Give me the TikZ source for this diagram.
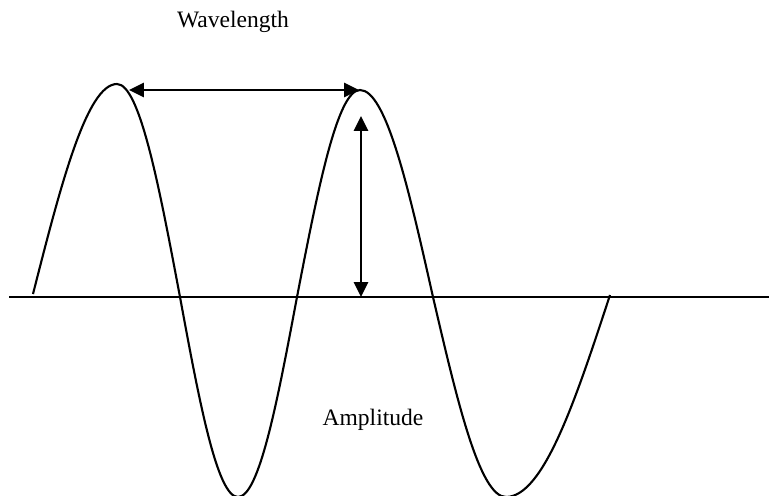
\documentclass[tikz,border=0pt]{standalone}
\usepackage{fontspec}
\setmainfont{Liberation Serif}
\usetikzlibrary{arrows.meta}

\tikzset{
  wave/.style={line width=1.2pt},
  dimarrow/.style={line width=1.6pt,{Triangle[length=8.5pt,width=8pt]}-{Triangle[length=8.5pt,width=8pt]}},
  lbl/.style={font=\fontsize{13.4}{16}\selectfont,inner sep=0pt}
}

\begin{document}
\begin{tikzpicture}[x=0.02cm,y=0.02cm]
\useasboundingbox (0,0) rectangle (769,495);
% axis
\coordinate (axL) at (9,198);
\coordinate (axR) at (769,198);
\draw[line width=1pt] (axL) -- (axR);
% wave
\draw[wave] (33,201) sin (117,411) cos (180,198) sin (238,-2) cos (297,198)
  sin (360,405) cos (433,198) sin (506,-2) cos (610,200);
% wavelength and amplitude markers
\coordinate (wlA) at (129,405);
\coordinate (wlB) at (359,405);
\coordinate (amA) at (361,379);
\coordinate (amB) at (361,198);
\draw[dimarrow] (wlA) -- (wlB);
\draw[dimarrow] (amA) -- (amB);
\node[lbl] (wavelength) at (233,473) {Wavelength};
\node[lbl] (amplitude) at (373,75) {Amplitude};
\end{tikzpicture}
\end{document}
